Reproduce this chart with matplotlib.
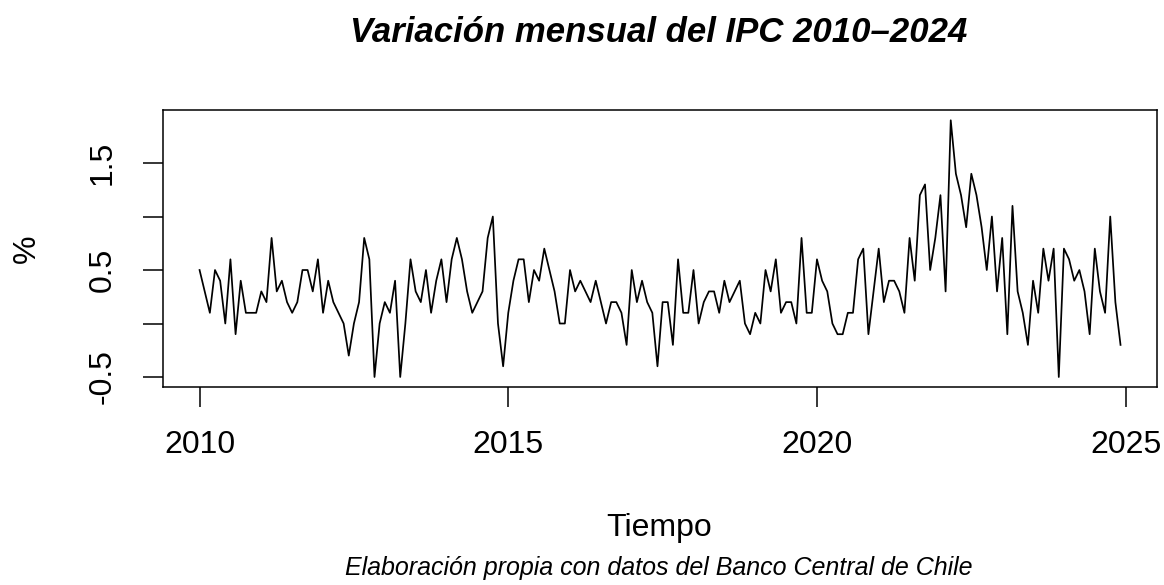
import matplotlib
matplotlib.use("Agg")
import matplotlib.pyplot as plt
import numpy as np

# Variacion mensual del IPC (%), enero 2010 - diciembre 2024
START_YEAR = 2010
ipc_2010 = [0.5, 0.3, 0.1, 0.5, 0.4, 0.0, 0.6, -0.1, 0.4, 0.1, 0.1, 0.1]
ipc_2011 = [0.3, 0.2, 0.8, 0.3, 0.4, 0.2, 0.1, 0.2, 0.5, 0.5, 0.3, 0.6]
ipc_2012 = [0.1, 0.4, 0.2, 0.1, 0.0, -0.3, 0.0, 0.2, 0.8, 0.6, -0.5, 0.0]
ipc_2013 = [0.2, 0.1, 0.4, -0.5, 0.0, 0.6, 0.3, 0.2, 0.5, 0.1, 0.4, 0.6]
ipc_2014 = [0.2, 0.6, 0.8, 0.6, 0.3, 0.1, 0.2, 0.3, 0.8, 1.0, 0.0, -0.4]
ipc_2015 = [0.1, 0.4, 0.6, 0.6, 0.2, 0.5, 0.4, 0.7, 0.5, 0.3, 0.0, 0.0]
ipc_2016 = [0.5, 0.3, 0.4, 0.3, 0.2, 0.4, 0.2, 0.0, 0.2, 0.2, 0.1, -0.2]
ipc_2017 = [0.5, 0.2, 0.4, 0.2, 0.1, -0.4, 0.2, 0.2, -0.2, 0.6, 0.1, 0.1]
ipc_2018 = [0.5, 0.0, 0.2, 0.3, 0.3, 0.1, 0.4, 0.2, 0.3, 0.4, 0.0, -0.1]
ipc_2019 = [0.1, 0.0, 0.5, 0.3, 0.6, 0.1, 0.2, 0.2, 0.0, 0.8, 0.1, 0.1]
ipc_2020 = [0.6, 0.4, 0.3, 0.0, -0.1, -0.1, 0.1, 0.1, 0.6, 0.7, -0.1, 0.3]
ipc_2021 = [0.7, 0.2, 0.4, 0.4, 0.3, 0.1, 0.8, 0.4, 1.2, 1.3, 0.5, 0.8]
ipc_2022 = [1.2, 0.3, 1.9, 1.4, 1.2, 0.9, 1.4, 1.2, 0.9, 0.5, 1.0, 0.3]
ipc_2023 = [0.8, -0.1, 1.1, 0.3, 0.1, -0.2, 0.4, 0.1, 0.7, 0.4, 0.7, -0.5]
ipc_2024 = [0.7, 0.6, 0.4, 0.5, 0.3, -0.1, 0.7, 0.3, 0.1, 1.0, 0.2, -0.2]

x_ticks = [2010, 2015, 2020, 2025]
y_ticks = [-0.5, 0.0, 0.5, 1.0, 1.5]
y_labels = ["-0.5", "", "0.5", "", "1.5"]

ipc = np.array(ipc_2010 + ipc_2011 + ipc_2012 + ipc_2013 + ipc_2014 + ipc_2015
               + ipc_2016 + ipc_2017 + ipc_2018 + ipc_2019 + ipc_2020 + ipc_2021
               + ipc_2022 + ipc_2023 + ipc_2024)
tiempo = START_YEAR + np.arange(len(ipc)) / 12

plt.rcParams['font.family'] = ['Liberation Sans', 'DejaVu Sans']

fig = plt.figure(figsize=(11.64, 5.85), dpi=100)
ax = fig.add_axes([0.1398, 0.338, 0.8545, 0.474])
ax.plot(tiempo, ipc, color="black", linewidth=1.25)

# margenes estilo R (4%)
xr = tiempo[-1] - tiempo[0]
yr = ipc.max() - ipc.min()
ax.set_xlim(tiempo[0] - 0.04 * xr, tiempo[-1] + 0.04 * xr)
ax.set_ylim(ipc.min() - 0.04 * yr, ipc.max() + 0.04 * yr)

ax.set_xticks(x_ticks)
ax.set_xticklabels([str(t) for t in x_ticks])
ax.set_yticks(y_ticks)
ax.set_yticklabels(y_labels, rotation=90, va="center")
ax.tick_params(axis="both", direction="out", length=14.5, width=1.1,
               labelsize=23, colors="black")
ax.tick_params(axis="x", pad=16)
ax.tick_params(axis="y", pad=18)
for s in ax.spines.values():
    s.set_linewidth(1.1)
    s.set_color("black")

fig.text(0.566, 0.944, "Variación mensual del IPC 2010–2024", ha="center", va="center",
         fontsize=25, fontweight="bold", fontstyle="italic")
fig.text(0.566, 0.097, "Tiempo", ha="center", va="center", fontsize=23)
fig.text(0.566, 0.029, "Elaboración propia con datos del Banco Central de Chile",
         ha="center", va="center", fontsize=18, fontstyle="italic")
fig.text(0.023, 0.575, "%", ha="center", va="center", fontsize=23, rotation=90)

fig.savefig("out.png", dpi=100)
